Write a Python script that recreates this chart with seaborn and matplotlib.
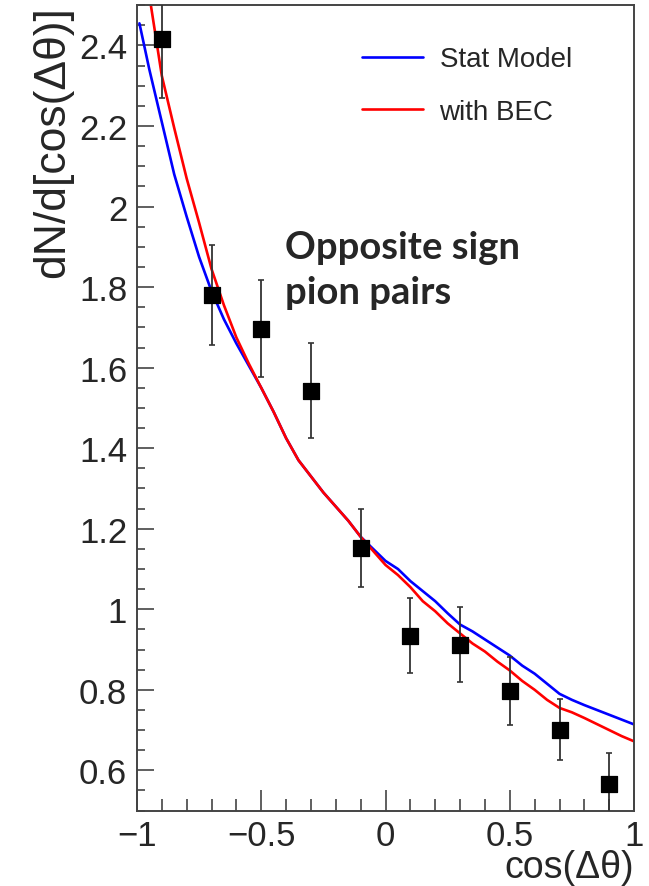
import numpy as np
import pandas as pd
import matplotlib
matplotlib.use("Agg")
import matplotlib.pyplot as plt
from matplotlib.ticker import MultipleLocator
import seaborn as sns

# ---- data ----
cos_data = [-0.9, -0.7, -0.5, -0.3, -0.1, 0.1, 0.3, 0.5, 0.7, 0.9]
dn_data = [2.415, 1.78, 1.697, 1.543, 1.152, 0.934, 0.912, 0.797, 0.701, 0.567]
dn_err = [0.145, 0.125, 0.12, 0.117, 0.096, 0.093, 0.093, 0.085, 0.075, 0.075]

cos_stat = [-0.99, -0.95, -0.9, -0.85, -0.8, -0.75, -0.7, -0.65, -0.6, -0.55, -0.5,
            -0.45, -0.4, -0.35, -0.3, -0.25, -0.2, -0.15, -0.1, -0.05, 0.0,
            0.05, 0.1, 0.15, 0.2, 0.25, 0.3, 0.35, 0.4, 0.45, 0.5,
            0.55, 0.6, 0.65, 0.7, 0.75, 0.8, 0.85, 0.9, 0.95, 1.0]
dn_stat = [2.455, 2.34, 2.21, 2.08, 1.975, 1.875, 1.79, 1.72, 1.66, 1.605, 1.55,
           1.49, 1.425, 1.37, 1.33, 1.29, 1.255, 1.22, 1.18, 1.15, 1.12,
           1.10, 1.07, 1.045, 1.02, 0.99, 0.962, 0.945, 0.925, 0.905, 0.885,
           0.86, 0.84, 0.815, 0.79, 0.775, 0.762, 0.75, 0.738, 0.726, 0.714]

cos_bec = [-0.944, -0.9, -0.85, -0.8, -0.75, -0.7, -0.65, -0.6, -0.55, -0.5,
           -0.45, -0.4, -0.35, -0.3, -0.25, -0.2, -0.15, -0.1, -0.05, 0.0,
           0.05, 0.1, 0.15, 0.2, 0.25, 0.3, 0.35, 0.4, 0.45, 0.5,
           0.55, 0.6, 0.65, 0.7, 0.75, 0.8, 0.85, 0.9, 0.95, 1.0]
dn_bec = [2.50, 2.325, 2.195, 2.07, 1.96, 1.845, 1.755, 1.675, 1.61, 1.55,
          1.49, 1.425, 1.37, 1.33, 1.29, 1.255, 1.22, 1.18, 1.145, 1.11,
          1.085, 1.055, 1.02, 0.995, 0.965, 0.94, 0.915, 0.895, 0.87, 0.848,
          0.822, 0.80, 0.775, 0.755, 0.744, 0.73, 0.715, 0.70, 0.685, 0.672]

series_names = ["Stat Model", "with BEC"]
annotation = "Opposite sign\npion pairs"

# ---- figure ----
sns.set_style("white")
plt.rcParams['font.family'] = ['Liberation Sans', 'DejaVu Sans']
plt.rcParams['axes.unicode_minus'] = True

fig = plt.figure(figsize=(6.49, 8.87), dpi=100)
ax = fig.add_axes([0.211, 0.085, 0.766, 0.908])

df_stat = pd.DataFrame({"x": cos_stat, "y": dn_stat})
df_bec = pd.DataFrame({"x": cos_bec, "y": dn_bec})
sns.lineplot(data=df_stat, x="x", y="y", ax=ax, color="#0000ff", lw=1.9,
             label=series_names[0], sort=False)
sns.lineplot(data=df_bec, x="x", y="y", ax=ax, color="#ff0000", lw=1.9,
             label=series_names[1], sort=False)

ax.errorbar(cos_data, dn_data, yerr=dn_err, fmt="none", ecolor="#333333",
            elinewidth=1.3, capsize=2.5, capthick=1.2, zorder=3)
df_pts = pd.DataFrame({"x": cos_data, "y": dn_data})
sns.scatterplot(data=df_pts, x="x", y="y", ax=ax, marker="s", s=125,
                color="black", edgecolor="black", zorder=4)

ax.set_xlim(-1, 1)
ax.set_ylim(0.5, 2.5)
ax.xaxis.set_major_locator(MultipleLocator(0.5))
ax.xaxis.set_minor_locator(MultipleLocator(0.1))
ax.yaxis.set_major_locator(MultipleLocator(0.2))
ax.yaxis.set_minor_locator(MultipleLocator(0.05))

def fmt(v, pos):
    s = "%g" % round(v, 2)
    return s.replace("-", "\u2212")
ax.xaxis.set_major_formatter(plt.FuncFormatter(fmt))
ax.yaxis.set_major_formatter(plt.FuncFormatter(fmt))

ax.tick_params(axis="x", which="major", direction="in", length=15, width=1.2,
               color="#444444", labelsize=25, pad=6, bottom=True, top=False)
ax.tick_params(axis="x", which="minor", direction="in", length=8.5, width=1.2,
               color="#444444", bottom=True, top=False)
ax.tick_params(axis="y", which="major", direction="in", length=12, width=1.2,
               color="#444444", labelsize=25, pad=7, left=True, right=False)
ax.tick_params(axis="y", which="minor", direction="in", length=6, width=1.2,
               color="#444444", left=True, right=False)
for sp in ax.spines.values():
    sp.set_color("#444444")
    sp.set_linewidth(1.4)

ax.set_xlabel("cos(\u0394\u03b8)", fontsize=27, loc="right", labelpad=-2)
ax.set_ylabel("dN/d[cos(\u0394\u03b8)]", fontsize=32, loc="top", labelpad=4)

leg = ax.legend(loc="upper right", bbox_to_anchor=(0.925, 0.98), frameon=False,
                fontsize=20, handlelength=2.2, handletextpad=0.6, labelspacing=0.95)

ax.text(0.297, 0.721, annotation, transform=ax.transAxes, fontsize=27.5,
        fontweight="bold", family=["Lato", "DejaVu Sans"], va="top",
        ha="left", linespacing=1.4)

fig.savefig("out.png", dpi=100)
